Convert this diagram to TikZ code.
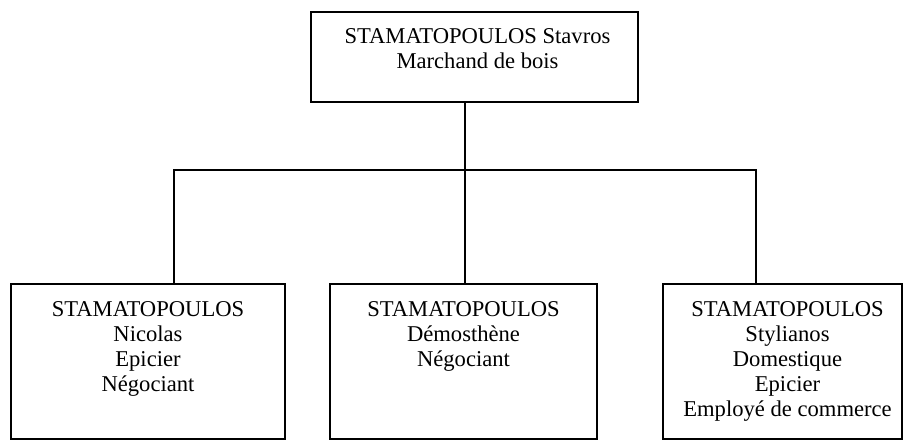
\documentclass[tikz,border=0pt]{standalone}
\usepackage{fontspec}
\setmainfont{Liberation Serif}
\usetikzlibrary{positioning}

\begin{document}
\begin{tikzpicture}[x = 1pt, y = -1pt, line width = 2pt,
                        box/.style = {rectangle, draw, inner sep = 0pt, outer sep = 0pt, anchor = north west, minimum height = 155pt},
                        names/.style = {align = center, inner sep = 0pt, anchor = north, font = \fontsize{22.6}{24.8}\selectfont}]
      \useasboundingbox (0, 0) rectangle (904, 441);
      \node [box, minimum width = 327pt, minimum height = 90pt] (stavros) at (311, 12){};
      \node [box, minimum width = 274pt] (nicolas) at (11, 284){};
      \node [box, minimum width = 267pt] (demos) at (330, 284){};
      \node [box, minimum width = 239pt] (stylianos) at (663, 284){};
      \node [names, below = 16pt of stavros.north, xshift = 3pt] (stavrosT) {STAMATOPOULOS Stavros\\Marchand de bois};
      \node [names, below = 17pt of nicolas.north] (nicolasT) {STAMATOPOULOS\\Nicolas\\Epicier\\Négociant};
      \node [names, below = 17pt of demos.north] (demosT) {STAMATOPOULOS\\Démosthène\\Négociant};
      \node [names, below = 17pt of stylianos.north, xshift = 5pt] (stylianosT) {STAMATOPOULOS\\Stylianos\\Domestique\\Epicier\\Employé de commerce};
      \coordinate (jmid) at (465, 170);
      \coordinate (jleft) at (174, 170);
      \coordinate (jright) at (756, 170);
      \draw (stavros.south -| jmid) -- (jmid) -- (jmid |- demos.north);
      \draw (jleft |- nicolas.north) -- (jleft) -- (jright) -- (jright |- stylianos.north);
    \end{tikzpicture}
\end{document}
